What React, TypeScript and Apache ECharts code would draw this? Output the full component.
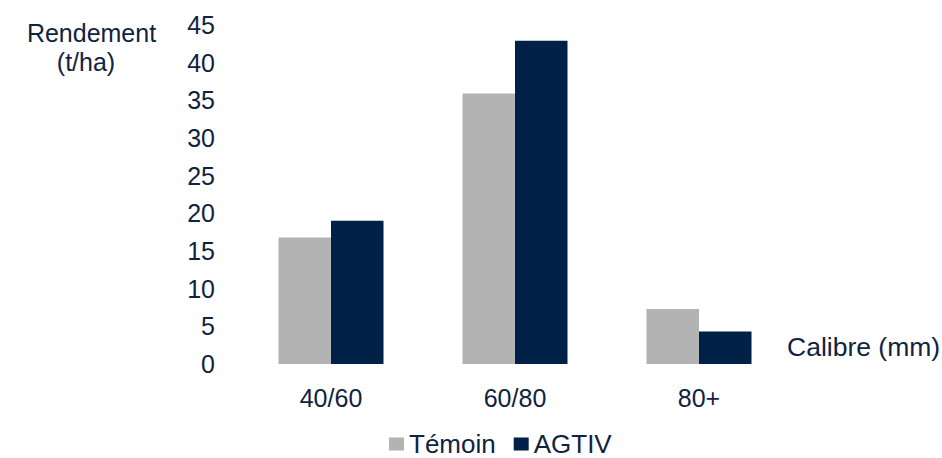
import React, { useEffect, useRef } from "react";
import * as echarts from "echarts";

const categories = ["40/60", "60/80", "80+"];
const temoin = [16.8, 35.9, 7.3];
const agtiv = [19.0, 42.9, 4.3];
const seriesNames = ["Témoin", "AGTIV"];
const yTitle = ["Rendement", "(t/ha)"];
const xTitle = "Calibre (mm)";

const FONT = "'Liberation Sans', Arial, sans-serif";
const TEXT = "#0f2341";
const GRAY = "#b3b3b3";
const NAVY = "#002147";

export default function App() {
  const ref = useRef<HTMLDivElement>(null);
  useEffect(() => {
    if (!ref.current) return;
    const chart = echarts.init(ref.current, undefined, { renderer: "svg" });
    chart.setOption({
      animation: false,
      backgroundColor: "#ffffff",
      textStyle: { fontFamily: FONT, color: TEXT },
      grid: { left: 239, right: 151, top: 25, bottom: 94, containLabel: false },
      legend: {
        data: seriesNames,
        left: 389,
        top: 431,
        padding: 0,
        itemWidth: 15,
        itemHeight: 13,
        itemGap: 18,
        icon: "rect",
        textStyle: { fontFamily: FONT, fontSize: 26, color: TEXT },
      },
      xAxis: {
        type: "category",
        data: categories,
        axisLine: { show: false },
        axisTick: { show: false },
        axisLabel: { fontFamily: FONT, fontSize: 25, color: TEXT, margin: 21 },
      },
      yAxis: {
        type: "value",
        min: 0,
        max: 45,
        interval: 5,
        splitLine: { show: false },
        axisLine: { show: false },
        axisTick: { show: false },
        axisLabel: { fontFamily: FONT, fontSize: 25, color: TEXT, margin: 24 },
      },
      graphic: [
        {
          type: "text",
          x: 91.5,
          y: 33,
          style: {
            text: yTitle[0],
            fontFamily: FONT,
            fontSize: 25,
            fill: TEXT,
            align: "center",
            verticalAlign: "middle",
          },
        },
        {
          type: "text",
          x: 86,
          y: 62,
          style: {
            text: yTitle[1],
            fontFamily: FONT,
            fontSize: 25,
            fill: TEXT,
            align: "center",
            verticalAlign: "middle",
          },
        },
        {
          type: "text",
          x: 787,
          y: 347,
          style: {
            text: xTitle,
            fontFamily: FONT,
            fontSize: 26.5,
            fill: TEXT,
            align: "left",
            verticalAlign: "middle",
          },
        },
      ],
      series: [
        {
          name: seriesNames[0],
          type: "bar",
          data: temoin,
          barWidth: 52.5,
          barGap: "0%",
          itemStyle: { color: GRAY },
        },
        {
          name: seriesNames[1],
          type: "bar",
          data: agtiv,
          barWidth: 52.5,
          barGap: "0%",
          itemStyle: { color: NAVY },
        },
      ],
    });
    return () => chart.dispose();
  }, []);
  return (
    <div
      ref={ref}
      style={{ position: "fixed", left: 0, top: 0, width: 942, height: 458 }}
    />
  );
}
